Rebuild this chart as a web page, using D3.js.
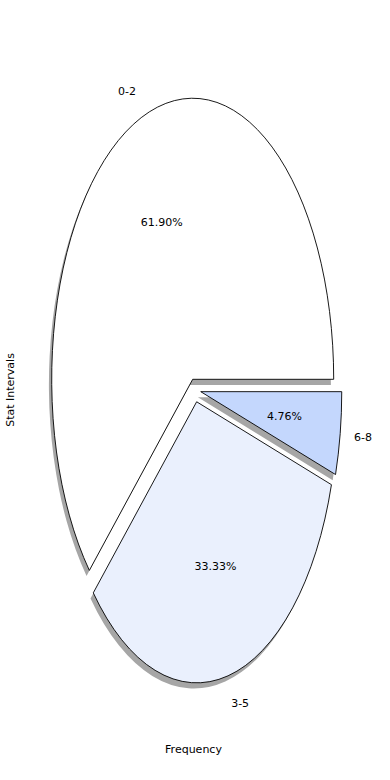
<!DOCTYPE html>
<html>
<head>
<meta charset="utf-8">
<script src="https://cdn.jsdelivr.net/npm/d3@7.9.0/dist/d3.min.js"></script>
<style>
  body { margin: 0; background: #fff; }
  text { font-family: "DejaVu Sans", sans-serif; font-size: 11px; fill: #000; }
</style>
</head>
<body>
<div id="chart"></div>
<script>
// chart data
const categories = ["0-2", "3-5", "6-8"];
const counts = [13, 7, 1];
const colors = ["#ffffff", "#eaf0fd", "#c4d7fd"];

// how far each wedge is pulled out, in pie units (x, y)
const explode = [[0, 0], [0.028, -0.080], [0.057, -0.044]];

const width = 390, height = 780;
const cx = 192.7, cy = 379.3, rx = 141, ry = 281;

const x = d3.scaleLinear().domain([-1, 1]).range([cx - rx, cx + rx]);
const y = d3.scaleLinear().domain([-1, 1]).range([cy + ry, cy - ry]);

let svg = d3.select("#chart")
    .append("svg")
    .attr("width", width)
    .attr("height", height);

const total = d3.sum(counts);

// matplotlib style: start at 3 o'clock, go counter-clockwise
const pie = d3.pie()
    .sort(null)
    .startAngle(Math.PI / 2)
    .endAngle(Math.PI / 2 - 2 * Math.PI);

const slices = pie(counts);

const arc = d3.arc().innerRadius(0).outerRadius(1);

// unit-circle transform for a wedge whose centre sits at (ox, oy)
function wedgeTransform(ox, oy) {
    return `translate(${x(ox)},${y(oy)}) scale(${rx},${ry})`;
}

// shadows first, so all wedges sit on top
slices.forEach((s, i) => {
    svg.append("path")
        .attr("transform", `translate(-2.8,5.6) ` + wedgeTransform(explode[i][0], explode[i][1]))
        .attr("d", arc(s))
        .attr("fill", "#a6a6a6")
        .attr("stroke", "none");
});

slices.forEach((s, i) => {
    svg.append("path")
        .attr("transform", wedgeTransform(explode[i][0], explode[i][1]))
        .attr("d", arc(s))
        .attr("fill", colors[i])
        .attr("stroke", "#000")
        .attr("stroke-width", 0.9)
        .attr("stroke-linejoin", "round")
        .attr("vector-effect", "non-scaling-stroke");
});

// labels and percentages
slices.forEach((s, i) => {
    let mid = Math.PI / 2 - (s.startAngle + s.endAngle) / 2; // back to math angle
    let ux = Math.cos(mid), uy = Math.sin(mid);
    let ox = explode[i][0], oy = explode[i][1];

    svg.append("text")
        .attr("x", x(ox + 1.1 * ux))
        .attr("y", y(oy + 1.1 * uy))
        .attr("text-anchor", ux > 0 ? "start" : "end")
        .attr("dominant-baseline", "central")
        .text(categories[i]);

    svg.append("text")
        .attr("x", x(ox + 0.6 * ux))
        .attr("y", y(oy + 0.6 * uy))
        .attr("text-anchor", "middle")
        .attr("dominant-baseline", "central")
        .text((counts[i] / total * 100).toFixed(2) + "%");
});

// axis titles
svg.append("text")
    .attr("x", 193.5)
    .attr("y", 749.5)
    .attr("text-anchor", "middle")
    .attr("dominant-baseline", "central")
    .text("Frequency");

svg.append("text")
    .attr("transform", "translate(10,390) rotate(-90)")
    .attr("text-anchor", "middle")
    .attr("dominant-baseline", "central")
    .text("Stat Intervals");
</script>
</body>
</html>
